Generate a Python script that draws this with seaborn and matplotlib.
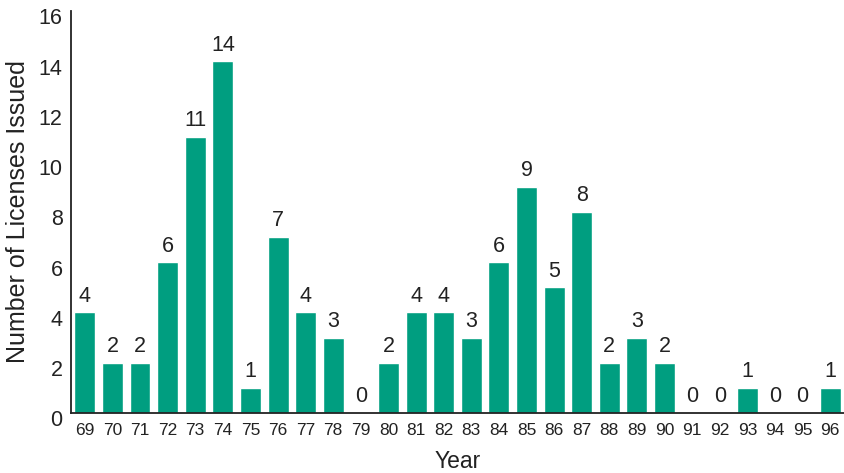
import matplotlib
matplotlib.use("Agg")
import matplotlib.pyplot as plt
import matplotlib.transforms as mtransforms
import seaborn as sns
import pandas as pd

years = ["69", "70", "71", "72", "73", "74", "75", "76", "77", "78", "79", "80",
         "81", "82", "83", "84", "85", "86", "87", "88", "89", "90", "91", "92",
         "93", "94", "95", "96"]
licenses = [4, 2, 2, 6, 11, 14, 1, 7, 4, 3, 0, 2,
            4, 4, 3, 6, 9, 5, 8, 2, 3, 2, 0, 0,
            1, 0, 0, 1]
yticks = [0, 2, 4, 6, 8, 10, 12, 14, 16]

sns.set_style("white")
plt.rcParams['font.family'] = ['Liberation Sans', 'DejaVu Sans']

df = pd.DataFrame({"Year": years, "Licenses": licenses})

fig = plt.figure(figsize=(8.45, 4.73), dpi=100)
ax = fig.add_axes([0.084, 0.127, 0.9148, 0.850])

sns.barplot(data=df, x="Year", y="Licenses", color="#009e80", saturation=1,
            width=0.76, ax=ax, order=years)

for c in ax.containers:
    ax.bar_label(c, labels=[str(v) for v in licenses], padding=4,
                 fontsize=15.5, color="#222222")

ax.set_ylim(0, 16)
ax.set_xlim(-0.5, len(years) - 0.5)
ax.set_yticks(yticks)
ax.set_yticklabels([str(t) for t in yticks])
ax.tick_params(axis="y", length=0, labelsize=15.5, pad=6, colors="#222222")
ax.tick_params(axis="x", length=0, labelsize=12.5, pad=7, colors="#222222")

offset = mtransforms.ScaledTranslation(0, -4 / 72, fig.dpi_scale_trans)
for lab in ax.get_yticklabels():
    lab.set_transform(lab.get_transform() + offset)

ax.set_xlabel("Year", fontsize=16.5, color="#222222", labelpad=9)
ax.set_ylabel("Number of Licenses Issued", fontsize=18, color="#222222", labelpad=6)

sns.despine(ax=ax)
for s in ["left", "bottom"]:
    ax.spines[s].set_color("#222222")
    ax.spines[s].set_linewidth(1.3)

fig.savefig("out.png", dpi=100)
